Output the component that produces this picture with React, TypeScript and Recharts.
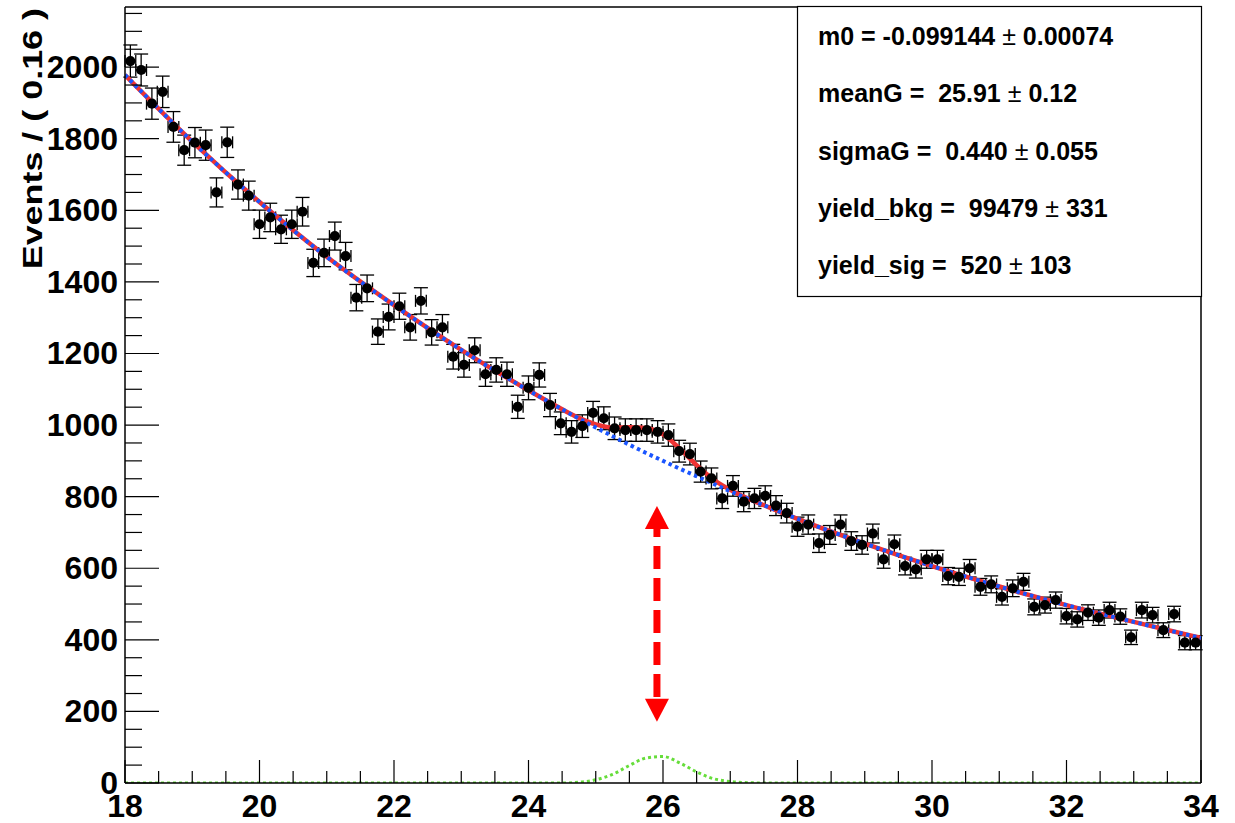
import {
  ComposedChart,
  ErrorBar,
  Line,
  ReferenceLine,
  Scatter,
  XAxis,
  YAxis,
} from 'recharts';

// events per bin (bin width 0.16, from 18 to 34)
const counts = [
  2017, 1992, 1898, 1931, 1833, 1768, 1789, 1782, 1650, 1790,
  1672, 1641, 1561, 1580, 1547, 1561, 1596, 1453, 1481, 1528,
  1472, 1356, 1382, 1261, 1302, 1332, 1273, 1347, 1259, 1273,
  1191, 1168, 1209, 1142, 1154, 1142, 1051, 1104, 1140, 1056,
  1005, 981, 997, 1034, 1019, 991, 986, 986, 986, 981,
  972, 927, 919, 870, 851, 795, 830, 786, 795, 802,
  775, 754, 716, 722, 670, 693, 722, 676, 665, 697,
  625, 667, 606, 597, 625, 625, 578, 576, 600, 548,
  555, 520, 544, 562, 492, 497, 511, 466, 457, 476,
  462, 483, 465, 407, 483, 469, 427, 472, 392, 392,
];
const binCenters = counts.map((_, i) => +(18.08 + 0.16 * i).toFixed(2));

// fit curves
const curveX = [18, 19, 20, 21, 22, 23, 24, 24.5, 24.75, 25, 25.25, 25.5, 25.75, 26, 26.25, 26.5, 26.75, 27, 27.25, 27.5, 28, 29, 30, 31, 32, 33, 34];
const bkgCurve = [1978, 1792, 1623, 1470, 1335, 1210, 1097, 1044, 1018, 993, 969, 945, 922, 900, 878, 857, 836, 815, 795, 776, 738, 669, 606, 549, 497, 450, 405];
const sigCurve = [0, 0, 0, 0, 0, 0, 0, 0, 2, 9, 24, 49, 70, 74, 56, 31, 12, 4, 1, 0, 0, 0, 0, 0, 0, 0, 0];

const xLabels = [18, 20, 22, 24, 26, 28, 30, 32, 34];
const yLabels = [0, 200, 400, 600, 800, 1000, 1200, 1400, 1600, 1800, 2000];
const xTicks = Array.from({ length: 33 }, (_, i) => 18 + i * 0.5);
const yTicks = Array.from({ length: 44 }, (_, i) => i * 50);

const stats = [
  ['m0 = -0.099144', '0.00074'],
  ['meanG =  25.91', '0.12'],
  ['sigmaG =  0.440', '0.055'],
  ['yield_bkg =  99479', '331'],
  ['yield_sig =  520', '103'],
];

const arrowTop = 774;
const arrowBottom = 171;
const meanG = 25.91;

const points = counts.map((v, i) => ({ x: binCenters[i], y: v, err: Math.sqrt(v), xerr: 0.08 }));
const curves = curveX.map((x, i) => ({
  x,
  bkg: bkgCurve[i],
  sig: sigCurve[i],
  total: bkgCurve[i] + sigCurve[i],
}));

const font = '"Liberation Sans", Arial, Helvetica, sans-serif';

function XTick({ x, y, payload }: any) {
  const major = xLabels.includes(payload.value);
  return (
    <g>
      <line x1={x} x2={x} y1={y} y2={y - (major ? 23 : 12)} stroke="#000" strokeWidth={1.2} />
      {major && (
        <text x={x} y={y + 34} textAnchor="middle" fontSize={32} fontWeight="bold" fontFamily={font} fill="#000">
          {payload.value}
        </text>
      )}
    </g>
  );
}

function YTick({ x, y, payload }: any) {
  const major = yLabels.includes(payload.value);
  return (
    <g>
      <line x1={x} x2={x + (major ? 34 : 17)} y1={y} y2={y} stroke="#000" strokeWidth={1.2} />
      {major && (
        <text x={x - 7} y={y} dy="0.34em" textAnchor="end" fontSize={32} fontWeight="bold" fontFamily={font} fill="#000">
          {payload.value}
        </text>
      )}
    </g>
  );
}

function Arrow(props: any) {
  const { x1, y1, y2 } = props;
  const top = Math.min(y1, y2);
  const bot = Math.max(y1, y2);
  const head = 23;
  const half = 12;
  return (
    <g>
      <line x1={x1} x2={x1} y1={top + head} y2={bot - head} stroke="#ff0000" strokeWidth={7} strokeDasharray="23 9" strokeDashoffset={15} />
      <polygon points={`${x1},${top} ${x1 - half},${top + head} ${x1 + half},${top + head}`} fill="#ff0000" />
      <polygon points={`${x1},${bot} ${x1 - half},${bot - head} ${x1 + half},${bot - head}`} fill="#ff0000" />
    </g>
  );
}

export default function App() {
  return (
    <div style={{ position: 'absolute', left: 0, top: 0, width: 1235, height: 823, background: '#fff' }}>
      <ComposedChart width={1235} height={823} margin={{ top: 7, right: 34, bottom: 0, left: 0 }}>
        <XAxis
          dataKey="x"
          type="number"
          domain={[18, 34]}
          ticks={xTicks}
          interval={0}
          tickLine={false}
          tickSize={0}
          tickMargin={0}
          tick={<XTick />}
          axisLine={{ stroke: '#000', strokeWidth: 1.5 }}
          height={40}
          allowDataOverflow
        />
        <YAxis
          type="number"
          domain={[0, 2168]}
          ticks={yTicks}
          interval={0}
          tickLine={false}
          tickSize={0}
          tickMargin={0}
          tick={<YTick />}
          axisLine={{ stroke: '#000', strokeWidth: 1.5 }}
          width={125}
          allowDataOverflow
        />
        <ReferenceLine y={2168} stroke="#000" strokeWidth={1.5} />
        <ReferenceLine x={34} stroke="#000" strokeWidth={1.5} />
        <Scatter
          data={points}
          dataKey="y"
          fill="#000"
          isAnimationActive={false}
          shape={(p: any) => <circle cx={p.cx} cy={p.cy} r={5.1} fill="#000" />}
        >
          <ErrorBar dataKey="err" direction="y" width={7} stroke="#000" strokeWidth={1.3} />
          <ErrorBar dataKey="xerr" direction="x" width={6} stroke="#000" strokeWidth={1.3} />
        </Scatter>
        <Line data={curves} dataKey="total" type="monotone" stroke="#ee3333" strokeWidth={4.5} dot={false} activeDot={false} isAnimationActive={false} />
        <Line data={curves} dataKey="bkg" type="monotone" stroke="#1a55ff" strokeWidth={4} strokeDasharray="3.5 3.5" dot={false} activeDot={false} isAnimationActive={false} />
        <Line data={curves} dataKey="sig" type="monotone" stroke="#66dd3a" strokeWidth={3} strokeDasharray="3 3" dot={false} activeDot={false} isAnimationActive={false} />
        <ReferenceLine
          segment={[{ x: meanG, y: arrowTop }, { x: meanG, y: arrowBottom }]}
          shape={(p: any) => <Arrow {...p} />}
        />
      </ComposedChart>
      <svg width={1235} height={823} style={{ position: 'absolute', left: 0, top: 0, pointerEvents: 'none' }}>
        <text
          transform="translate(42,8) scale(1,1.33) rotate(-90)"
          textAnchor="end"
          fontSize={27}
          fontWeight="bold"
          fontFamily={font}
          fill="#000"
          style={{ whiteSpace: 'pre' }}
        >
          Events / ( 0.16 )
        </text>
        <rect x={797.5} y={6.5} width={404} height={290} fill="#fff" stroke="#000" strokeWidth={1.2} />
        {stats.map(([label, err], i) => (
          <text key={label} x={818} y={45 + 57.3 * i} fontSize={25} fontWeight="bold" fontFamily={font} fill="#000" style={{ whiteSpace: 'pre' }}>
            {label + ' '}
            <tspan fontWeight="normal">±</tspan>
            {' ' + err}
          </text>
        ))}
      </svg>
    </div>
  );
}
